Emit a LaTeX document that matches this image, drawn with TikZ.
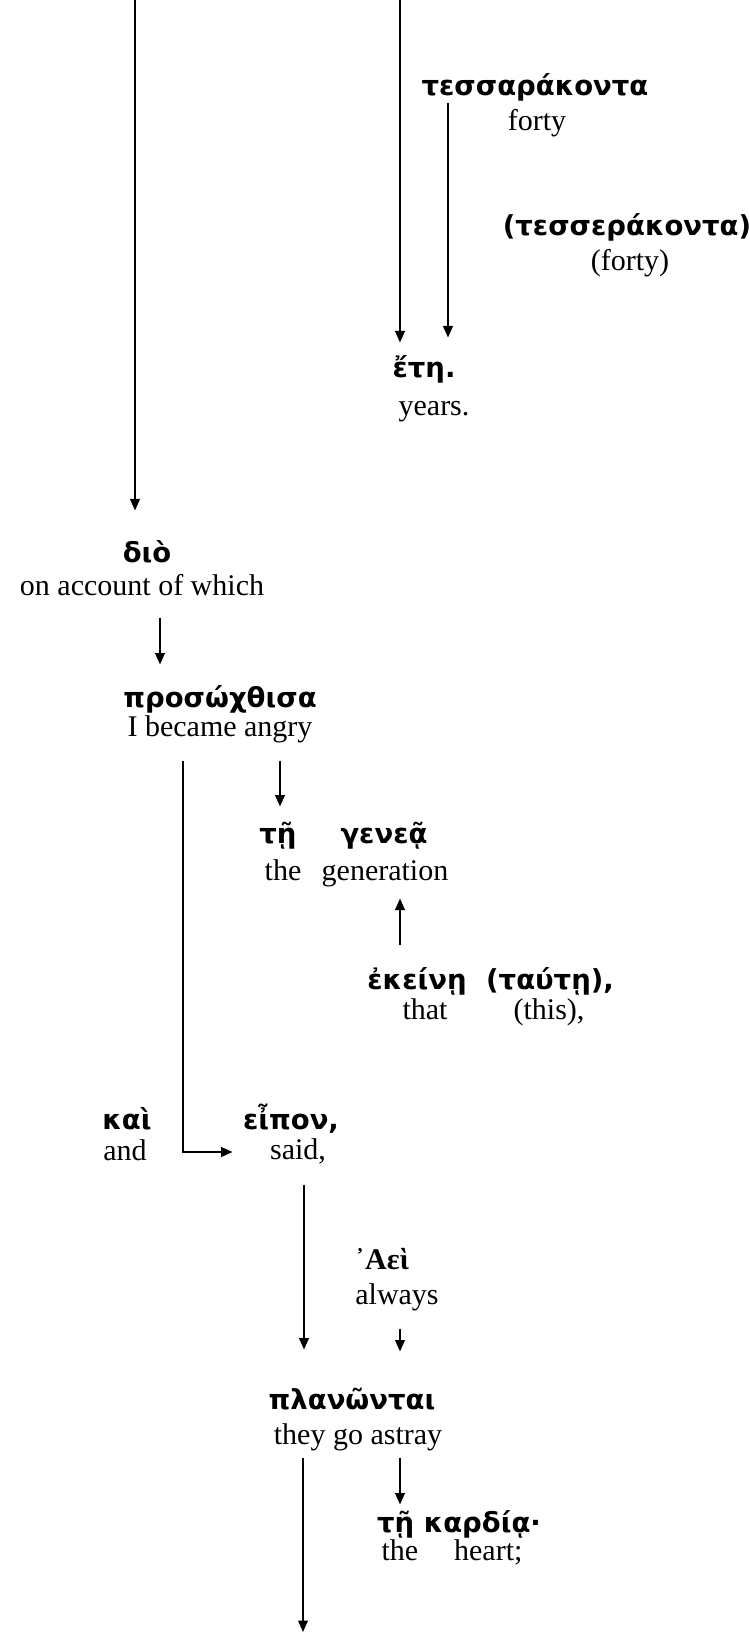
\documentclass[tikz,border=0pt]{standalone}
\usepackage{fontspec}
\setmainfont{Liberation Serif}
\newfontfamily\grkfont[Script=Greek]{DejaVu Sans}
\usetikzlibrary{arrows.meta}

\begin{document}
\begin{tikzpicture}[x=0.4pt,y=-0.4pt,
		grk/.style={inner sep=0pt,text height=9pt,text depth=3pt,font=\grkfont\bfseries\fontsize{11}{13}\selectfont},
		eng/.style={inner sep=0pt,text height=9pt,text depth=3pt,font=\fontsize{12}{14}\selectfont},
		arr/.style={line width=0.65pt,-{Triangle[length=4.6pt,width=3.9pt]}}]
		\useasboundingbox (0,0) rectangle (749,1637);
		
		\coordinate (topA) at (135,0);
		\coordinate (topB) at (400,0);
		\coordinate (bottom) at (303,1632);
		
		\node[grk] (tessarakonta) at (535,88) {τεσσαράκοντα};
		\node[eng] (forty) at (537,123) {forty};
		\node[grk] (tesserakonta) at (627,228) {(τεσσεράκοντα)};
		\node[eng] (fortyalt) at (630,263) {(forty)};
		\node[grk] (eti) at (424,370) {ἔτη.};
		\node[eng] (years) at (434,408) {years.};
		
		\node[grk] (dio) at (147,555) {διὸ};
		\node[eng] (onaccount) at (142,588) {on account of which};
		\node[grk] (prosochthisa) at (220,700) {προσώχθισα};
		\node[eng] (angry) at (220,729) {I became angry};
		\node[grk] (tei) at (278,836) {τῇ};
		\node[grk] (genea) at (384,836) {γενεᾷ};
		\node[eng] (the) at (283,873) {the};
		\node[eng] (generation) at (385,873) {generation};
		\node[grk] (ekeine) at (417,982) {ἐκείνῃ};
		\node[grk] (taute) at (550,982) {(ταύτῃ),};
		\node[eng] (that) at (425,1012) {that};
		\node[eng] (this) at (549,1012) {(this),};
		
		\node[grk] (kai) at (127,1122) {καὶ};
		\node[eng] (and) at (125,1153) {and};
		\node[grk] (eipon) at (291,1122) {εἶπον,};
		\node[eng] (said) at (298,1152) {said,};
		\node[grk,font=\bfseries\fontsize{12}{14}\selectfont] (aei) at (382,1262) {᾿Αεὶ};
		\node[eng] (always) at (397,1297) {always};
		\node[grk] (planontai) at (352,1402) {πλανῶνται};
		\node[eng] (astray) at (358,1437) {they go astray};
		\node[grk] (kardia) at (459,1525) {τῇ καρδίᾳ·};
		\node[eng] (heart) at (452,1553) {the\hspace{1.2em}heart;};
		
		\draw[arr,shorten >=11.6pt] (topA) -- (topA |- dio.north);
		\draw[arr,shorten >=4.8pt] (topB) -- (topB |- eti.north);
		\draw[arr,shorten >=6.8pt] (tessarakonta.south -| 448,0) -- (eti.north -| 448,0);
		\draw[arr,shorten <=5.6pt,shorten >=8pt] (onaccount.south -| 160,0) -- (prosochthisa.north -| 160,0);
		\draw[arr,shorten <=6.4pt,shorten >=14.8pt] (angry.south -| 183,0) |- (said.west);
		\draw[arr,shorten <=6.4pt,shorten >=5.6pt] (angry.south -| 280,0) -- (tei.north -| 280,0);
		\draw[arr,shorten <=8.8pt,shorten >=4pt] (ekeine.north -| 400,0) -- (generation.south -| 400,0);
		\draw[arr,shorten <=6.8pt,shorten >=14.8pt] (said.south -| 304,0) -- (planontai.north -| 304,0);
		\draw[arr,shorten <=6.4pt,shorten >=14pt] (always.south -| 400,0) -- (planontai.north -| 400,0);
		\draw[arr,shorten <=2pt,shorten >=2pt] (astray.south -| 400,0) -- (kardia.north -| 400,0);
		\draw[arr,shorten <=2pt] (astray.south -| 303,0) -- (bottom);
\end{tikzpicture}
\end{document}
